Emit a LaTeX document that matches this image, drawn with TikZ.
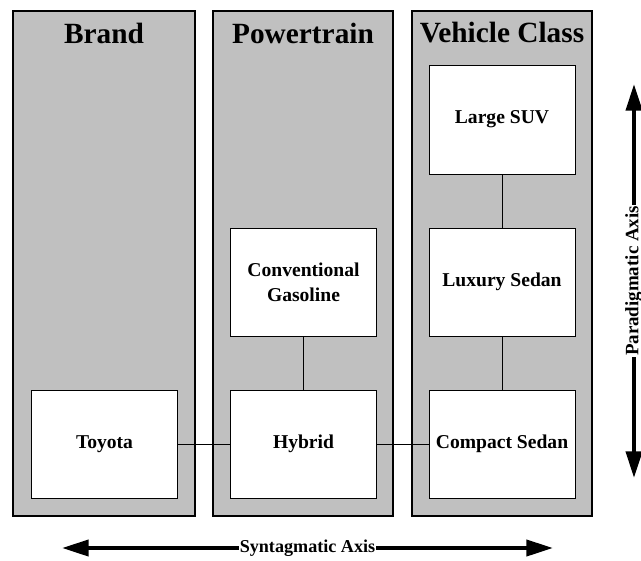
\documentclass[tikz,border=0pt]{standalone}
\usepackage{fontspec}
\setmainfont{Liberation Serif}
\usetikzlibrary{arrows.meta}
\definecolor{colgray}{HTML}{C0C0C0}
\begin{document}
\begin{tikzpicture}[x=0.75pt,y=-0.75pt,
  column/.style={draw,fill=colgray,line width=1.5pt},
  heading/.style={font=\fontsize{22}{26}\selectfont\bfseries},
  item/.style={draw,fill=white,line width=0.75pt,minimum width=109.5pt,minimum height=81pt,
    inner sep=0pt,align=center,font=\fontsize{14.7}{18.5}\selectfont\bfseries},
  link/.style={line width=0.75pt},
  axis/.style={line width=3pt,{Triangle[length=20pt,width=12pt]}-{Triangle[length=20pt,width=12pt]}},
  axislabel/.style={fill=white,inner sep=0.5pt,font=\fontsize{13.6}{16}\selectfont\bfseries}]
\useasboundingbox (0,0) rectangle (641,560);

% columns
\draw[column] (13,11) rectangle (195,516);
\draw[column] (213,11) rectangle (393,516);
\draw[column] (412,11) rectangle (592,516);

\node[heading] (brand) at (104,33) {Brand};
\node[heading] (powertrain) at (303,33) {Powertrain};
\node[heading] (vclass) at (502,33) {Vehicle Class};

% boxes
\node[item] (toyota) at (104.5,444) {Toyota};
\node[item] (hybrid) at (303.5,444) {Hybrid};
\node[item] (gasoline) at (303.5,282) {Conventional\\Gasoline};
\node[item,minimum height=81.75pt] (suv) at (502,119.5) {Large SUV};
\node[item] (luxury) at (502,282) {Luxury Sedan};
\node[item] (compact) at (502,444) {Compact Sedan};

\draw[link] (toyota) -- (hybrid);
\draw[link] (hybrid) -- (compact);
\draw[link] (gasoline) -- (hybrid);
\draw[link] (suv) -- (luxury);
\draw[link] (luxury) -- (compact);

% axes
\coordinate (synL) at (62,548);
\coordinate (synR) at (553,548);
\coordinate (parT) at (634,84);
\coordinate (parB) at (634,478);

\draw[axis] (synL) -- (synR) node[axislabel,midway] (syntag) {Syntagmatic Axis};
\draw[axis] (parB) -- (parT) node[axislabel,midway,rotate=90,font=\fontsize{14.2}{16}\selectfont\bfseries] (paradig) {Paradigmatic Axis};

\end{tikzpicture}
\end{document}
